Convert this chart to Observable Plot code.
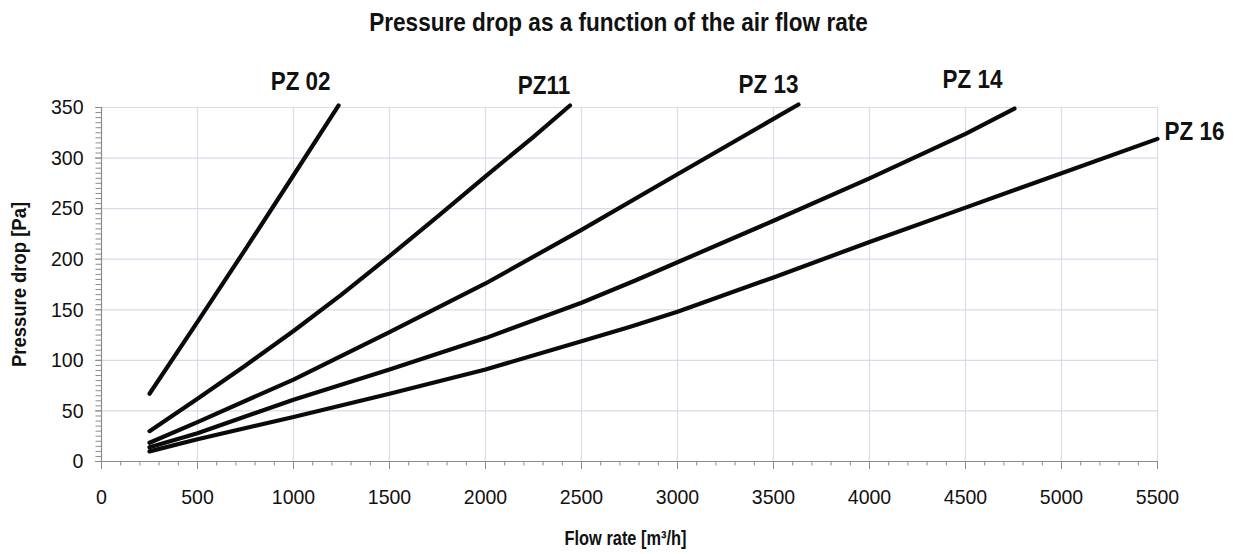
<!DOCTYPE html>
<html><head><meta charset="utf-8">
<script src="https://cdn.jsdelivr.net/npm/d3@7"></script>
<script src="https://cdn.jsdelivr.net/npm/@observablehq/plot@0.6"></script>
<style>
body{margin:0;background:#fff}
</style>
</head><body><div id="chart"></div>
<script>
const seriesNames = ["PZ 02", "PZ11", "PZ 13", "PZ 14", "PZ 16"];
const pz02Flow = [250, 500, 750, 1000, 1235];
const pz02Drop = [67, 138, 210, 283, 352];
const pz11Flow = [250, 500, 750, 1000, 1250, 1500, 1750, 2000, 2250, 2440];
const pz11Drop = [30, 62, 95, 129, 165, 203, 242, 282, 321, 352];
const pz13Flow = [250, 500, 1000, 1500, 2000, 2500, 3000, 3630];
const pz13Drop = [18.5, 39, 81, 128, 176, 229, 284, 353];
const pz14Flow = [250, 500, 1000, 1500, 2000, 2500, 2780, 3000, 3500, 4000, 4500, 4755];
const pz14Drop = [14, 28, 61, 91, 122, 157, 179, 197, 238, 280, 324, 349];
const pz16Flow = [250, 500, 1000, 1500, 2000, 2500, 2750, 3000, 3500, 4000, 4500, 5000, 5500];
const pz16Drop = [10, 22, 44, 67, 91, 119, 133, 148, 182, 217, 251, 285, 319];
const xTickValues = [0, 500, 1000, 1500, 2000, 2500, 3000, 3500, 4000, 4500, 5000, 5500];
const yTickValues = [0, 50, 100, 150, 200, 250, 300, 350];
const titleText = "Pressure drop as a function of the air flow rate";
const xLabelText = "Flow rate [m³/h]";
const yLabelText = "Pressure drop [Pa]";

const flows = [pz02Flow, pz11Flow, pz13Flow, pz14Flow, pz16Flow];
const drops = [pz02Drop, pz11Drop, pz13Drop, pz14Drop, pz16Drop];
const rows = seriesNames.flatMap((name, i) => flows[i].map((f, j) => ({name, flow: f, drop: drops[i][j]})));
const lastPoints = seriesNames.map((name, i) => ({name, flow: flows[i][flows[i].length - 1], drop: drops[i][drops[i].length - 1]}));

// label placement offsets (pixels) relative to each curve's end
const labelDx = [-38, -26, -30, -42, 7];
const labelDy = [-24, -20, -20, -29, -7];

const minorX = d3.range(0, 5501, 100);
const minorY = d3.range(0, 351, 5);
const gridColor = "#dcd9ea";
const axisColor = "#8c8c8c";
const fontBold = {fontWeight: "bold", fill: "#111"};

const plot = Plot.plot({
  width: 1233,
  height: 554,
  marginLeft: 101,
  marginRight: 76,
  marginTop: 107,
  marginBottom: 93,
  style: {fontFamily: '"Liberation Sans", Arial, sans-serif', background: "#fff"},
  x: {domain: [0, 5500]},
  y: {domain: [0, 350]},
  marks: [
    Plot.gridX(xTickValues.slice(1), {stroke: gridColor, strokeOpacity: 1, strokeWidth: 1.2}),
    Plot.gridY(yTickValues.slice(1), {stroke: gridColor, strokeOpacity: 1, strokeWidth: 1.2}),
    Plot.ruleX([0], {stroke: axisColor, strokeWidth: 1.2}),
    Plot.ruleY([0], {stroke: axisColor, strokeWidth: 1.2}),
    Plot.axisX(minorX, {tickSize: 4.5, text: null, label: null, stroke: axisColor}),
    Plot.axisY(minorY, {tickSize: 5.5, text: null, label: null, stroke: axisColor}),
    Plot.axisX(xTickValues, {tickSize: 8, tickPadding: 20, fontSize: 21, stroke: axisColor, fill: "#111", label: null, tickFormat: d => String(d)}),
    Plot.axisY(yTickValues, {tickSize: 6, tickPadding: 12, fontSize: 21, stroke: axisColor, fill: "#111", label: null, tickFormat: d => String(d)}),
    Plot.line(rows, {x: "flow", y: "drop", z: "name", stroke: "#0a0a0a", strokeWidth: 4.2, curve: "linear"}),
    ...lastPoints.map((p, i) => Plot.text([p], {x: "flow", y: "drop", text: "name", dx: labelDx[i], dy: labelDy[i], textAnchor: i === 4 ? "start" : "middle", fontSize: 25.5, ...fontBold})),
    Plot.text([titleText], {frameAnchor: "top", textAnchor: "middle", lineAnchor: "middle", dx: -11, dy: -85, fontSize: 26, ...fontBold}),
    Plot.text([xLabelText], {frameAnchor: "bottom", textAnchor: "middle", lineAnchor: "middle", dx: -4, dy: 77, fontSize: 19.5, ...fontBold}),
    Plot.text([yLabelText], {frameAnchor: "left", textAnchor: "middle", lineAnchor: "middle", rotate: -90, dx: -82.5, fontSize: 20.5, ...fontBold})
  ]
});
document.getElementById("chart").append(plot);

// narrow the glyphs to mimic the condensed typeface of the original
const tickStrings = new Set([...xTickValues, ...yTickValues].map(String));
function factorFor(s) {
  if (s === titleText) return 0.867;
  if (seriesNames.includes(s)) return 0.88;
  if (s === xLabelText) return 0.84;
  if (s === yLabelText) return 0.9;
  if (tickStrings.has(s)) return 0.93;
  return null;
}
plot.querySelectorAll("text").forEach(t => {
  const f = factorFor(t.textContent.trim());
  if (f == null) return;
  let w = t.getComputedTextLength();
  if (!w) w = t.getBBox().width;
  if (!w) return;
  t.setAttribute("textLength", (w * f).toFixed(1));
  t.setAttribute("lengthAdjust", "spacingAndGlyphs");
});
</script>
</body></html>
